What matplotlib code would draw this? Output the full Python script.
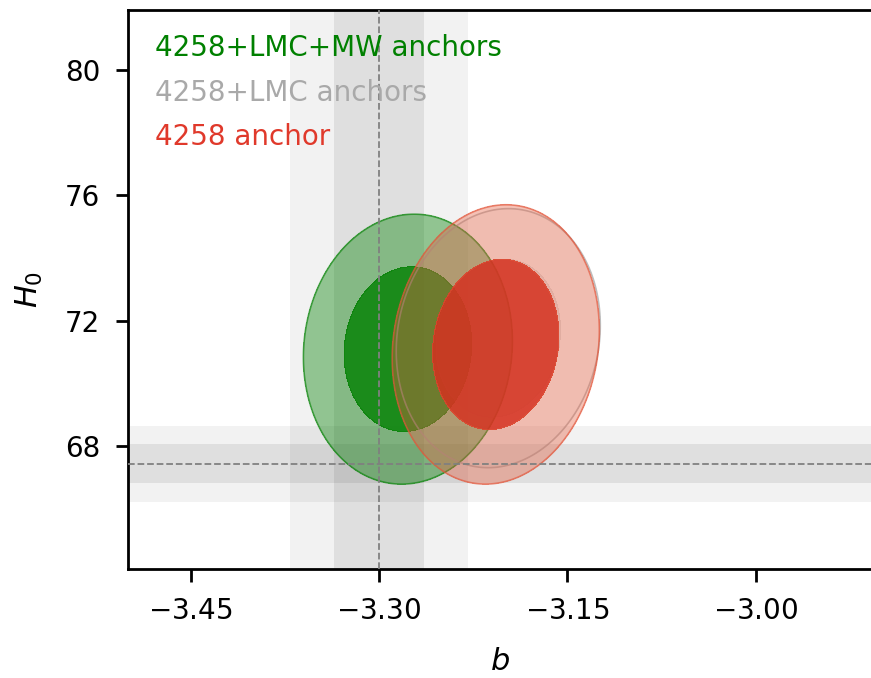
import numpy as np
import matplotlib
matplotlib.use('agg')
import matplotlib.pyplot as plt

plt.rcParams['font.family'] = ['DejaVu Sans']
plt.rcParams['mathtext.fontset'] = 'dejavusans'

# posterior summaries (gaussian approx of each contour)
labels = ['4258+LMC+MW anchors', '4258+LMC anchors', '4258 anchor']
b_mean = [-3.277, -3.205, -3.207]
h0_mean = [71.1, 71.45, 71.25]
b_sigma = [0.0335, 0.0327, 0.0332]
h0_sigma = [1.73, 1.66, 1.79]
rho = [0.06, 0.1, 0.1]
text_colors = ['green', 'darkgray', '#e0392b']
inner_colors = [(0.0, 0.5, 0.0, 0.88), (0.6, 0.6, 0.6, 0.25), (0.84, 0.2, 0.13, 0.9)]
outer_colors = [(0.0, 0.5, 0.0, 0.4), (0.6, 0.6, 0.6, 0.07), (0.9, 0.36, 0.24, 0.38)]
edge_colors = [(0.0, 0.5, 0.0, 0.6), (0.6, 0.6, 0.6, 0.6), (0.886, 0.333, 0.227, 0.65)]

# reference values (dashed lines + 1/2 sigma bands)
b_ref, b_err1, b_err2 = -3.30, 0.036, 0.071
h0_ref, h0_err1, h0_err2 = 67.45, 0.63, 1.21

xticks = [-3.45, -3.30, -3.15, -3.00]
yticks = [68, 72, 76, 80]

fig = plt.figure(figsize=(8.71, 6.78), dpi=100)
ax = fig.add_axes([0.147, 0.161, 0.853, 0.824])

# bands
ax.axvspan(b_ref - b_err2, b_ref + b_err2, color='black', alpha=0.05, lw=0, zorder=0)
ax.axvspan(b_ref - b_err1, b_ref + b_err1, color='black', alpha=0.075, lw=0, zorder=0)
ax.axhspan(h0_ref - h0_err2, h0_ref + h0_err2, color='black', alpha=0.05, lw=0, zorder=0)
ax.axhspan(h0_ref - h0_err1, h0_ref + h0_err1, color='black', alpha=0.075, lw=0, zorder=0)

bx = np.linspace(-3.5, -2.9, 600)
hy = np.linspace(63, 83, 600)
B, H = np.meshgrid(bx, hy)

for i in range(len(labels)):
    dx = (B - b_mean[i]) / b_sigma[i]
    dy = (H - h0_mean[i]) / h0_sigma[i]
    chi2 = (dx**2 - 2 * rho[i] * dx * dy + dy**2) / (1 - rho[i]**2)
    # 68% and 95% regions of a 2d gaussian
    ax.contourf(B, H, chi2, levels=[0, 2.30, 6.18],
                colors=[inner_colors[i], outer_colors[i]], zorder=2 + i)
    ax.contour(B, H, chi2, levels=[6.18], colors=[edge_colors[i]],
               linewidths=1.2, zorder=2 + i)

ax.axvline(b_ref, color='gray', ls='--', lw=1.3, zorder=6)
ax.axhline(h0_ref, color='gray', ls='--', lw=1.3, zorder=6)

for i, lab in enumerate(labels):
    ax.text(0.036, 0.932 - i * 0.0795, lab, color=text_colors[i], fontsize=20,
            transform=ax.transAxes, va='center', ha='left', zorder=7)

ax.set_xlim(-3.5, -2.908)
ax.set_ylim(64.1, 81.9)
ax.set_xticks(xticks)
ax.set_xticklabels(['$-$%.2f' % abs(t) for t in xticks])
ax.set_yticks(yticks)
ax.tick_params(labelsize=20, width=2, length=9, pad=11)
for s in ['left', 'bottom', 'top']:
    ax.spines[s].set_linewidth(2)
ax.spines['right'].set_visible(False)

ax.set_xlabel('$b$', fontsize=22, labelpad=16)
ax.set_ylabel('$H_0$', fontsize=22, labelpad=14)

fig.savefig('out.png', dpi=100)
